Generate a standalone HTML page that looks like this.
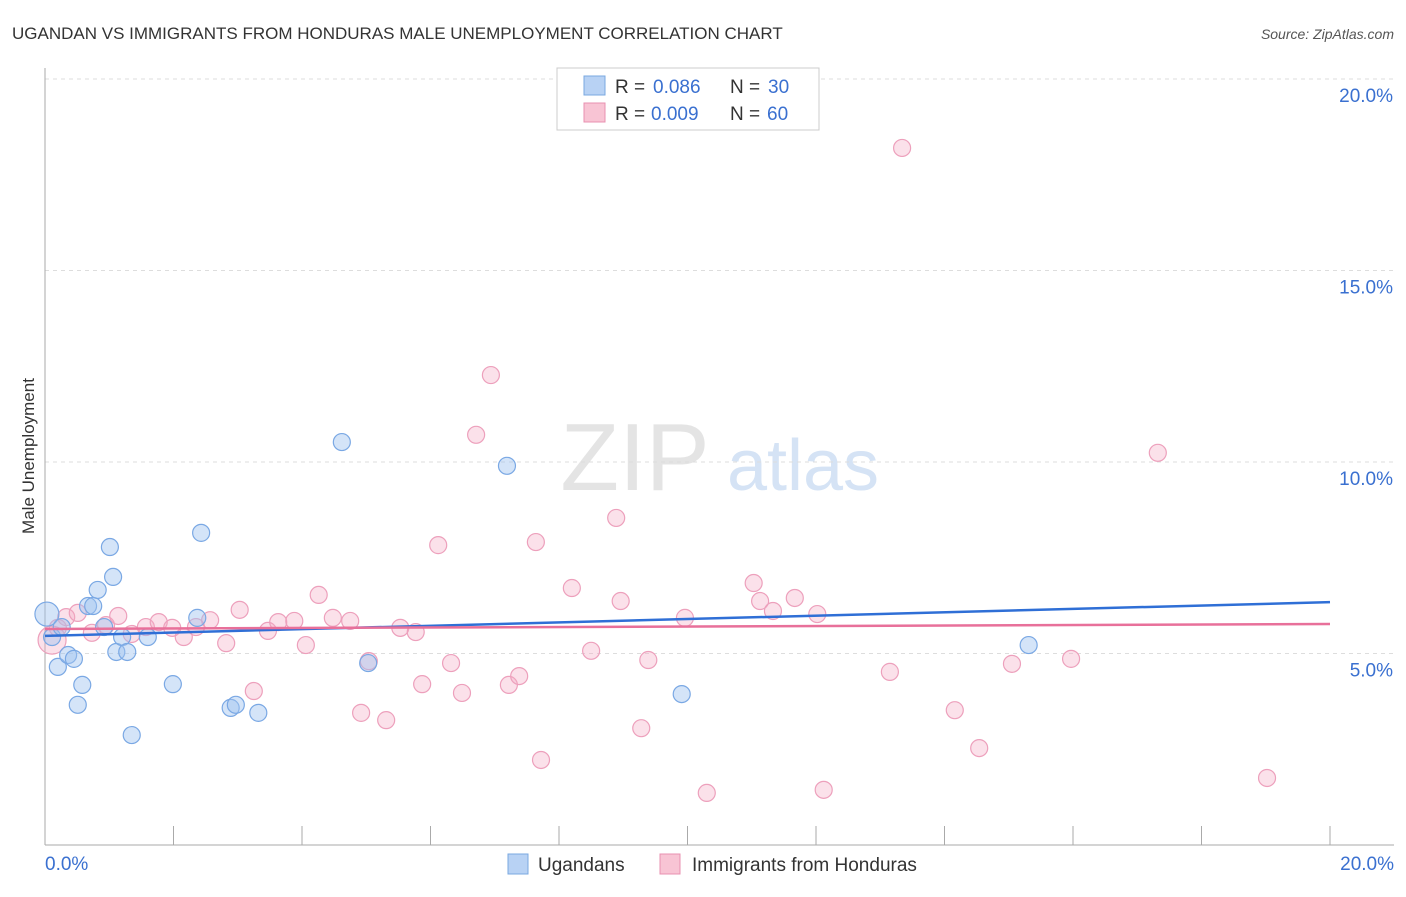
<!DOCTYPE html>
<html><head><meta charset="utf-8">
<style>
body{margin:0;background:#fff;font-family:"Liberation Sans",sans-serif;}
svg text{font-family:"Liberation Sans",sans-serif;}
</style></head>
<body>
<svg id="chart" width="1406" height="892">
<text x="12" y="39" font-size="17" fill="#333">UGANDAN VS IMMIGRANTS FROM HONDURAS MALE UNEMPLOYMENT CORRELATION CHART</text>
<text x="1394" y="39" font-size="14" fill="#555" font-style="italic" text-anchor="end">Source: ZipAtlas.com</text>
<text x="34" y="456" font-size="17" fill="#333" text-anchor="middle" transform="rotate(-90 34 456)">Male Unemployment</text>
<g>
<text x="635" y="490" font-size="96" fill="#e4e4e4" text-anchor="middle" font-family="Liberation Serif,serif">ZIP</text>
<text x="803" y="490" font-size="72" fill="#d5e3f5" text-anchor="middle">atlas</text>
</g>
<g id="grid"></g><g id="axes"></g><g id="pts"></g><g id="lines"></g>
<g>
<rect x="557" y="68" width="262" height="62" fill="#fff" stroke="#ccc"/>
<rect x="584" y="76" width="21" height="19" fill="#b8d2f4" stroke="#7aa8e0"/>
<rect x="584" y="103" width="21" height="19" fill="#f8c4d4" stroke="#e890b0"/>
<text x="615" y="93" font-size="19" fill="#333">R =</text>
<text x="653" y="93" font-size="19" fill="#3a70d0">0.086</text>
<text x="730" y="93" font-size="19" fill="#333">N =</text>
<text x="768" y="93" font-size="19" fill="#3a70d0">30</text>
<text x="615" y="120" font-size="19" fill="#333">R =</text>
<text x="651" y="120" font-size="19" fill="#3a70d0">0.009</text>
<text x="730" y="120" font-size="19" fill="#333">N =</text>
<text x="767" y="120" font-size="19" fill="#3a70d0">60</text>
</g>
<g>
<rect x="508" y="854" width="20" height="20" fill="#b8d2f4" stroke="#7aa8e0"/>
<text x="538" y="871" font-size="19" fill="#333">Ugandans</text>
<rect x="660" y="854" width="20" height="20" fill="#f8c4d4" stroke="#e890b0"/>
<text x="692" y="871" font-size="19" fill="#333">Immigrants from Honduras</text>
</g>
</svg>
<script>
const yTicks=[5,10,15,20];
const yTickLabels=["5.0%","10.0%","15.0%","20.0%"];
const blueX=[0.03,0.11,0.26,0.20,0.36,0.45,0.58,0.51,0.67,0.75,0.82,1.06,1.01,1.11,1.20,1.28,1.35,1.60,1.99,2.37,2.43,2.89,2.97,3.32,4.62,5.03,7.19,9.91,15.31,0.92];
const blueY=[6.03,5.43,5.69,4.65,4.96,4.86,4.18,3.66,6.24,6.24,6.66,7.00,7.78,5.04,5.43,5.04,2.87,5.43,4.20,5.93,8.15,3.58,3.66,3.45,10.52,4.75,9.90,3.94,5.22,5.69];
const pinkX=[0.11,0.20,0.33,0.51,0.73,0.95,1.14,1.35,1.57,1.77,1.98,2.16,2.35,2.57,2.82,3.03,3.25,3.47,3.63,3.88,4.06,4.26,4.48,4.75,4.92,5.04,5.31,5.53,5.77,5.87,6.12,6.32,6.49,6.71,6.94,7.22,7.38,7.64,7.72,8.20,8.50,8.89,8.96,9.28,9.39,9.96,10.30,11.03,11.13,11.33,11.67,12.02,12.12,13.15,13.34,14.16,14.54,15.05,15.97,17.32,19.02];
const pinkY=[5.35,5.67,5.95,6.06,5.54,5.74,5.98,5.51,5.69,5.82,5.67,5.43,5.69,5.87,5.27,6.14,4.02,5.59,5.82,5.85,5.22,6.53,5.93,5.85,3.45,4.80,3.26,5.67,5.56,4.20,7.83,4.75,3.97,10.71,12.27,4.18,4.41,7.91,2.22,6.71,5.07,8.54,6.37,3.05,4.83,5.93,1.36,6.84,6.37,6.11,6.45,6.03,1.44,4.52,18.20,3.52,2.53,4.73,4.86,10.24,1.75];
const blueTrend=[5.46,6.34];
const pinkTrend=[5.64,5.77];
const NS="http://www.w3.org/2000/svg";
const X=v=>45+v/20*1285, Y=v=>845-v/5*191.5;
function mk(p,t,a){const e=document.createElementNS(NS,t);for(const k in a)e.setAttribute(k,a[k]);document.getElementById(p).appendChild(e);return e;}
yTicks.forEach((t,i)=>{
 const l=mk('grid','line',{x1:45,x2:1394,y1:Y(t),y2:Y(t),stroke:'#ddd','stroke-dasharray':'4,4'});
 
 
 const tx=mk('grid','text',{x:1393,y:Y(t)+23,'font-size':19,fill:'#3a70d0','text-anchor':'end'});
 tx.textContent=yTickLabels[i];
 
 
});
const ya=mk('axes','line',{x1:45,x2:45,y1:68,y2:845,stroke:'#aaa'});


const xa=mk('axes','line',{x1:45,x2:1394,y1:845,y2:845,stroke:'#aaa'});


for(let i=0;i<=10;i++){const tk=mk('axes','line',{x1:X(i*2),x2:X(i*2),y1:826,y2:845,stroke:'#aaa'});
 
 }
const xl0=mk('axes','text',{x:45,y:870,'font-size':19,fill:'#3a70d0'});xl0.textContent='0.0%';


const xl1=mk('axes','text',{x:1394,y:870,'font-size':19,fill:'#3a70d0','text-anchor':'end'});xl1.textContent='20.0%';


pinkX.forEach((v,i)=>{const c=mk('pts','circle',{cx:X(v),cy:Y(pinkY[i]),r:i==0?14:8.5,fill:'rgba(244,170,196,0.35)',stroke:'#eda0bc','stroke-width':1.2});
 
 });
blueX.forEach((v,i)=>{const c=mk('pts','circle',{cx:X(v),cy:Y(blueY[i]),r:i==0?12:8.5,fill:'rgba(160,196,240,0.45)',stroke:'#7aa8e4','stroke-width':1.2});
 
 });
const bl=mk('lines','line',{x1:X(0),x2:X(20),y1:Y(blueTrend[0]),y2:Y(blueTrend[1]),stroke:'#2f6fd6','stroke-width':2.5});


const pl=mk('lines','line',{x1:X(0),x2:X(20),y1:Y(pinkTrend[0]),y2:Y(pinkTrend[1]),stroke:'#e8709a','stroke-width':2.5});


</script>
</body></html>
